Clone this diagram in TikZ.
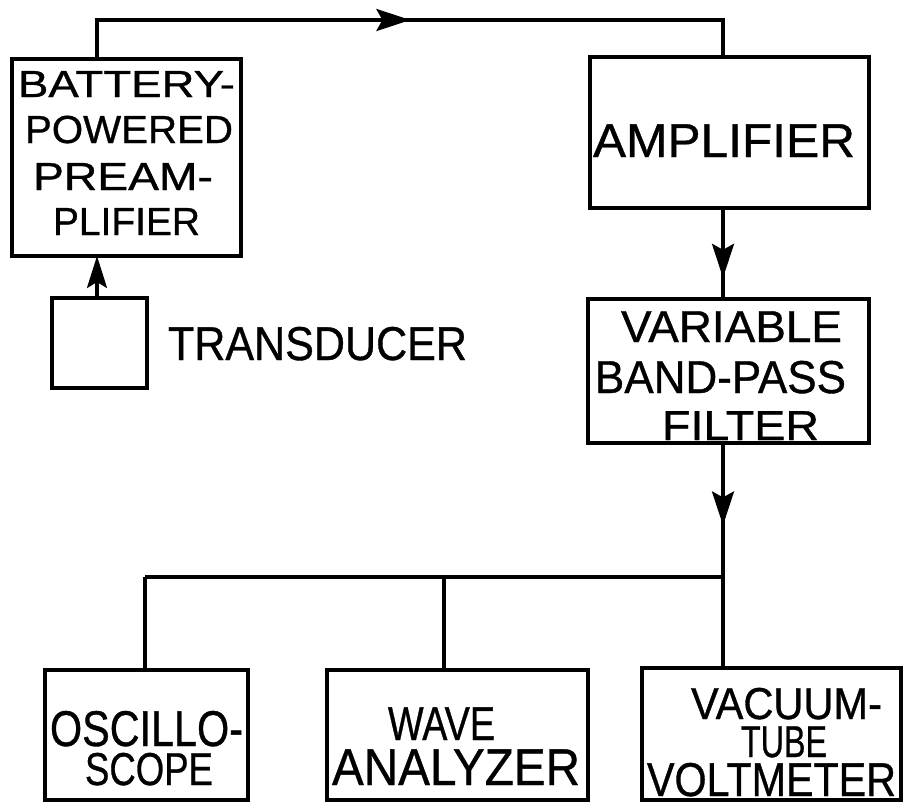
\documentclass[tikz,border=0pt]{standalone}
\usepackage{graphicx}
\usepackage{fontspec}
\setmainfont{Liberation Sans}[FakeBold=0.8]
\usetikzlibrary{arrows.meta,decorations.markings}
\newsavebox{\lbox}
% #1 = width, #2 = cap height (both in px = pt), #3 = text
\newcommand{\rsz}[3]{%
  \pgfmathsetmacro{\fsz}{#2/0.716}%
  \fontsize{\fsz pt}{\fsz pt}\selectfont
  \sbox{\lbox}{#3}%
  \pgfmathsetmacro{\sxf}{#1/\wd\lbox}%
  \scalebox{\sxf}[1]{\usebox{\lbox}}}
\tikzset{
  box/.style={draw, line width=3.5pt, inner sep=0pt, outer sep=0pt},
  lbl/.style={inner sep=0pt, outer sep=0pt, anchor=base west},
  conn/.style={line width=3.3pt},
  tipA/.style={-{Stealth[length=32pt,width=20pt,inset=6pt]}},
  midarrow/.style={postaction={decorate},
    decoration={markings, mark=at position #1 with {\arrow{Stealth[length=34pt,width=22pt,inset=6pt]}}}}
}
\begin{document}
\begin{tikzpicture}[x=1pt,y=-1pt]
\useasboundingbox (0,0) rectangle (904,804);

% boxes
\node[box, minimum width=229pt, minimum height=197pt] (pre) at (126.5,157.5) {};
\node[box, minimum width=95pt, minimum height=90pt] (trans) at (99.5,343) {};
\node[box, minimum width=279pt, minimum height=151pt] (amp) at (729.5,132.5) {};
\node[box, minimum width=281pt, minimum height=144pt] (filt) at (728.5,371) {};
\node[box, minimum width=203pt, minimum height=130pt] (osc) at (146.5,735) {};
\node[box, minimum width=261pt, minimum height=130pt] (wave) at (457.5,735) {};
\node[box, minimum width=259pt, minimum height=132pt] (vtvm) at (771.5,734) {};

% texts
\node[lbl] (t1) at (18,97) {\rsz{217}{27}{BATTERY-}};
\node[lbl] (t2) at (25,143) {\rsz{208}{28}{POWERED}};
\node[lbl] (t3) at (33,190) {\rsz{180}{28}{PREAM-}};
\node[lbl] (t4) at (53,235) {\rsz{147}{28}{PLIFIER}};
\node[lbl] (t5) at (593,157) {\rsz{262}{34}{AMPLIFIER}};
\node[lbl] (t6) at (168,360) {\rsz{299}{34}{TRANSDUCER}};
\node[lbl] (t7) at (621,342) {\rsz{221}{32}{VARIABLE}};
\node[lbl] (t8) at (595,393) {\rsz{251}{33}{BAND-PASS}};
\node[lbl] (t9) at (662,440) {\rsz{157}{30}{FILTER}};
\node[lbl] (t10) at (50,746) {\rsz{193}{36}{OSCILLO-}};
\node[lbl] (t11) at (85,785) {\rsz{128}{33}{SCOPE}};
\node[lbl] (t12) at (388,740) {\rsz{107}{34}{WAVE}};
\node[lbl] (t13) at (332,785) {\rsz{248}{37}{ANALYZER}};
\node[lbl] (t14) at (691,719) {\rsz{191}{32}{VACUUM-}};
\node[lbl] (t15) at (741,757) {\rsz{86}{32}{TUBE}};
\node[lbl] (t16) at (647,796) {\rsz{249}{34}{VOLTMETER}};

% routing points
\coordinate (cTL) at (97,20);
\coordinate (cTR) at (723,20);
\coordinate (cBL) at (145,577);
\coordinate (cBM) at (444,577);
\coordinate (cBR) at (723,577);

% connectors
\draw[conn, midarrow=0.502] (pre.north -| cTL) -- (cTL) -- (cTR) -- (amp.north -| cTR);
\draw[conn, tipA] (trans.north -| cTL) -- (pre.south -| cTL);
\draw[conn, midarrow=0.767] (amp.south -| cTR) -- (filt.north -| cTR);
\draw[conn, midarrow=0.615] (filt.south -| cBR) -- (cBR);
\draw[conn] (cBL) -- (cBR);
\draw[conn] (cBL) -- (osc.north -| cBL);
\draw[conn] (cBM) -- (wave.north -| cBM);
\draw[conn] (cBR) -- (vtvm.north -| cBR);
\end{tikzpicture}
\end{document}
